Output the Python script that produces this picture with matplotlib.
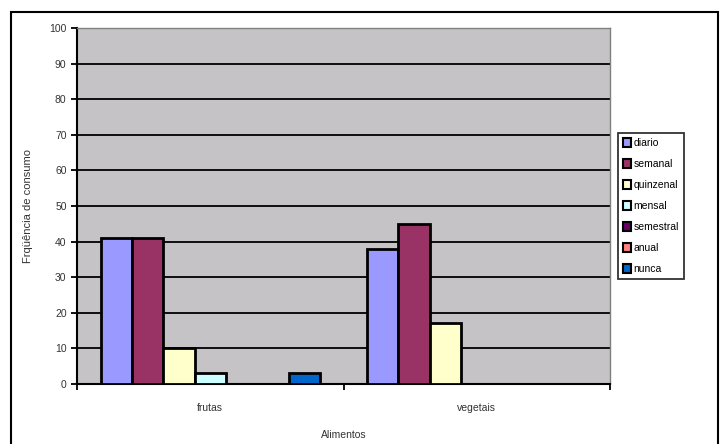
import numpy as np
import matplotlib.pyplot as plt
from matplotlib.patches import Rectangle

plt.rcParams['font.family'] = ['Liberation Sans', 'DejaVu Sans']

alimentos = ["frutas", "vegetais"]
frequencias = ["diario", "semanal", "quinzenal", "mensal", "semestral", "anual", "nunca"]
valores = {
    "diario": [41, 38],
    "semanal": [41, 45],
    "quinzenal": [10, 17],
    "mensal": [3, 0],
    "semestral": [0, 0],
    "anual": [0, 0],
    "nunca": [3, 0],
}
cores = ["#9999FF", "#993366", "#FFFFCC", "#CCFFFF", "#660066", "#FF8080", "#0066CC"]

fig = plt.figure(figsize=(7.2, 4.44), dpi=100)
W, H = 720, 444

# moldura externa do grafico
fig.patches.append(Rectangle((11 / W, 1 - 446 / H), 707 / W, 434 / H,
                             transform=fig.transFigure, fill=False,
                             edgecolor="black", linewidth=1.5))

ax = fig.add_axes([77 / W, 1 - 384 / H, 533 / W, 356 / H])
ax.set_facecolor("#C6C3C6")

n = len(frequencias)
largura = 1 / (n + 1.5)
x = np.arange(len(alimentos))
for i, (freq, cor) in enumerate(zip(frequencias, cores)):
    pos = x - 0.5 + 0.75 * largura + (i + 0.5) * largura
    ax.bar(pos, valores[freq], width=largura, color=cor, edgecolor="black",
           linewidth=2, label=freq, zorder=3)

ax.set_xlim(-0.5, 1.5)
ax.set_ylim(0, 100)
ax.set_yticks(range(0, 101, 10))
ax.yaxis.grid(True, color="black", linewidth=1.3, zorder=1)
ax.set_axisbelow(True)

ax.set_xticks(x)
ax.set_xticklabels(alimentos, fontsize=7.5, color="#333333")
ax.set_xticks([-0.5, 0.5, 1.5], minor=True)
ax.tick_params(axis="x", which="major", length=0, pad=14)
ax.tick_params(axis="x", which="minor", length=4, width=1.3, direction="out")
ax.tick_params(axis="y", length=4, width=1.3, labelsize=7.5, labelcolor="#333333")

for s in ("top", "right"):
    ax.spines[s].set_color("#808080")
    ax.spines[s].set_linewidth(1)
for s in ("left", "bottom"):
    ax.spines[s].set_linewidth(1.5)

ax.set_xlabel("Alimentos", fontsize=7.5, color="#333333", labelpad=12)
ax.set_ylabel("Frqüência de consumo", fontsize=8, color="#333333", labelpad=12)

leg = fig.legend(loc="upper left", bbox_to_anchor=(618 / W, 1 - 133 / H),
                 fontsize=7.5, frameon=True, fancybox=False, handlelength=0.7,
                 handleheight=0.9, handletextpad=0.3, labelspacing=1.05,
                 borderpad=0.5, borderaxespad=0)
leg.get_frame().set_edgecolor("black")
leg.get_frame().set_linewidth(1.3)
for h in leg.legend_handles:
    h.set_linewidth(1.5)

fig.savefig("out.png", dpi=100)
